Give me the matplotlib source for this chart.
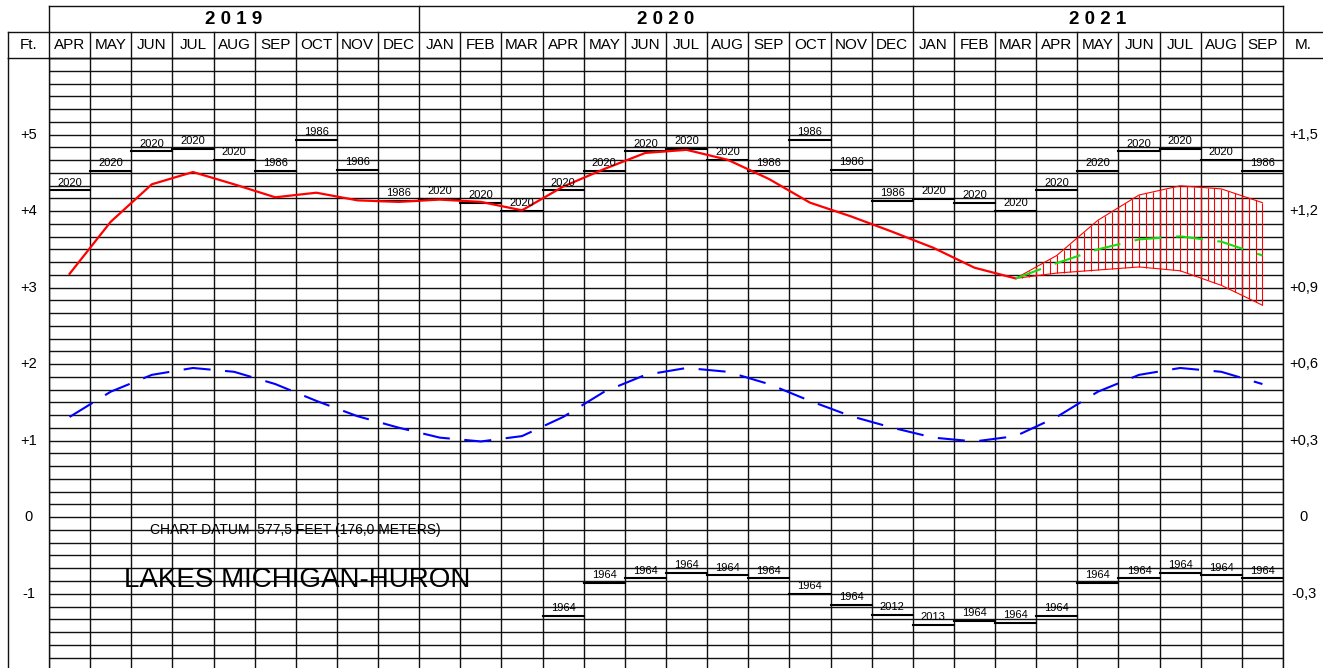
#!/usr/bin/env python3
"""Lakes Michigan-Huron water level chart (Apr 2019 - Sep 2021)."""

import matplotlib

matplotlib.use("Agg")
import matplotlib.pyplot as plt
import numpy as np

plt.rcParams["font.family"] = ["Liberation Sans", "DejaVu Sans"]

# 30 monthly columns, APR 2019 .. SEP 2021
months = ["APR", "MAY", "JUN", "JUL", "AUG", "SEP", "OCT", "NOV", "DEC",
          "JAN", "FEB", "MAR", "APR", "MAY", "JUN", "JUL", "AUG", "SEP", "OCT", "NOV", "DEC",
          "JAN", "FEB", "MAR", "APR", "MAY", "JUN", "JUL", "AUG", "SEP"]
years = ["2019", "2020", "2021"]
year_first_col = [0, 9, 21]

cal_months = ["JAN", "FEB", "MAR", "APR", "MAY", "JUN", "JUL", "AUG", "SEP", "OCT", "NOV", "DEC"]

# per calendar month, feet above chart datum
record_high = [4.16, 4.11, 4.00, 4.27, 4.53, 4.78, 4.81, 4.67, 4.53, 4.93, 4.54, 4.13]
record_high_year = ["2020", "2020", "2020", "2020", "2020", "2020", "2020", "2020",
                    "1986", "1986", "1986", "1986"]
record_low = [-1.41, -1.35, -1.38, -1.29, -0.86, -0.80, -0.73, -0.76, -0.80, -1.00, -1.15, -1.28]
record_low_year = ["2013", "1964", "1964", "1964", "1964", "1964", "1964", "1964",
                   "1964", "1964", "1964", "2012"]
long_term_avg = [1.04, 0.99, 1.06, 1.31, 1.64, 1.86, 1.95, 1.90, 1.74, 1.52, 1.32, 1.17]
record_low_from = 12  # lows are shown from APR 2020 on

# recorded levels APR 2019 .. MAR 2021
observed = [3.18, 3.86, 4.35, 4.51, 4.35, 4.18, 4.24, 4.14, 4.12,
            4.15, 4.12, 4.01, 4.32, 4.55, 4.76, 4.80, 4.67, 4.42, 4.11, 3.93, 3.73,
            3.52, 3.26, 3.12]

# forecast MAR 2021 .. SEP 2021
forecast = [3.12, 3.32, 3.50, 3.63, 3.67, 3.60, 3.42]
forecast_high = [3.12, 3.42, 3.88, 4.21, 4.33, 4.29, 4.11]
forecast_low = [3.12, 3.19, 3.23, 3.27, 3.22, 3.03, 2.77]

ft_ticks = [5, 4, 3, 2, 1, 0, -1]
ft_labels = ["+5", "+4", "+3", "+2", "+1", "0", "-1"]
m_labels = ["+1,5", "+1,2", "+0,9", "+0,6", "+0,3", "0", "-0,3"]


def main() -> None:
    W, H = 1323, 668
    fig = plt.figure(figsize=(W / 100, H / 100), dpi=100)
    ax = fig.add_axes([49 / W, 0, 1234 / W, 610 / H])
    n = len(months)
    ax.set_xlim(0, n)
    ax.set_ylim(-1.97, 6)

    grid_kw = dict(color="#111111", lw=1.0)
    ax.set_xticks(np.arange(n + 1))
    ax.set_yticks(np.arange(-11, 37) / 6)
    ax.grid(True, **grid_kw)
    ax.tick_params(length=0, labelleft=False, labelbottom=False)
    for sp in ax.spines.values():
        sp.set_color("#111111")
        sp.set_linewidth(1.0)
    ax.spines["bottom"].set_visible(False)

    centers = np.arange(n) + 0.5
    cal_idx = [cal_months.index(m) for m in months]

    # long term average
    lta = [long_term_avg[k] for k in cal_idx]
    ax.plot(centers, lta, color="blue", lw=1.5, dashes=(13, 7))

    # record highs / lows
    for i, k in enumerate(cal_idx):
        ax.plot([i, i + 1], [record_high[k]] * 2, color="black", lw=1.5)
        ax.annotate(record_high_year[k], (i + 0.5, record_high[k]), xytext=(0, 2),
                    textcoords="offset points", ha="center", va="bottom", fontsize=8)
        if i >= record_low_from:
            ax.plot([i, i + 1], [record_low[k]] * 2, color="black", lw=1.5)
            ax.annotate(record_low_year[k], (i + 0.5, record_low[k]), xytext=(0, 2),
                        textcoords="offset points", ha="center", va="bottom", fontsize=8)

    # observed
    ax.plot(centers[:len(observed)], observed, color="red", lw=1.6)

    # forecast range, hatched with vertical lines
    fx = centers[len(observed) - 1:]
    ax.plot(fx, forecast_high, color="red", lw=0.8)
    ax.plot(fx, forecast_low, color="red", lw=0.8)
    hx = np.arange(fx[0], fx[-1] + 1e-6, 1 / 6)
    ax.vlines(hx, np.interp(hx, fx, forecast_low), np.interp(hx, fx, forecast_high),
              color="red", lw=0.8)
    ax.plot(fx, forecast, color="#11dd11", lw=1.5, dashes=(13, 7))

    # side labels (feet left, metres right)
    for v, fl, ml in zip(ft_ticks, ft_labels, m_labels):
        ax.text(-0.5, v, fl, ha="center", va="center", fontsize=10.5, clip_on=False)
        ax.text(n + 0.5, v, ml, ha="center", va="center", fontsize=10.5, clip_on=False)

    # header: year row and month row
    tr = ax.get_xaxis_transform()
    h = 26 / 610
    line_kw = dict(color="#111111", lw=1.0, transform=tr, clip_on=False)
    ax.plot([0, n], [1 + 2 * h] * 2, **line_kw)
    for x0 in year_first_col + [n]:
        ax.plot([x0, x0], [1 + h, 1 + 2 * h], **line_kw)
    ax.plot([-1, n + 1], [1 + h] * 2, **line_kw)
    ax.plot([-1, n + 1], [1, 1], **line_kw)
    for x0 in range(-1, n + 1):
        ax.plot([x0, x0], [1, 1 + h], **line_kw)
    ax.plot([-1, -1], [0, 1], **line_kw)

    ends = year_first_col[1:] + [n]
    for y, a, b in zip(years, year_first_col, ends):
        ax.text((a + b) / 2, 1 + 1.5 * h, " ".join(y), transform=tr, ha="center", va="center",
                fontsize=13.5, fontweight="bold")
    for i, m in enumerate(months):
        ax.text(i + 0.5, 1 + 0.5 * h, m, transform=tr, ha="center", va="center", fontsize=11)
    ax.text(-0.5, 1 + 0.5 * h, "Ft.", transform=tr, ha="center", va="center", fontsize=11)
    ax.text(n + 0.5, 1 + 0.5 * h, "M.", transform=tr, ha="center", va="center", fontsize=11)

    # titles inside the grid
    ax.text(6.0, -0.17, "CHART DATUM  577,5 FEET (176,0 METERS)", ha="center", va="center",
            fontsize=10)
    ax.text(6.04, -0.82, "LAKES MICHIGAN-HURON", ha="center", va="center", fontsize=20)

    fig.savefig("out.png", dpi=100)
    plt.close(fig)


if __name__ == "__main__":
    main()
